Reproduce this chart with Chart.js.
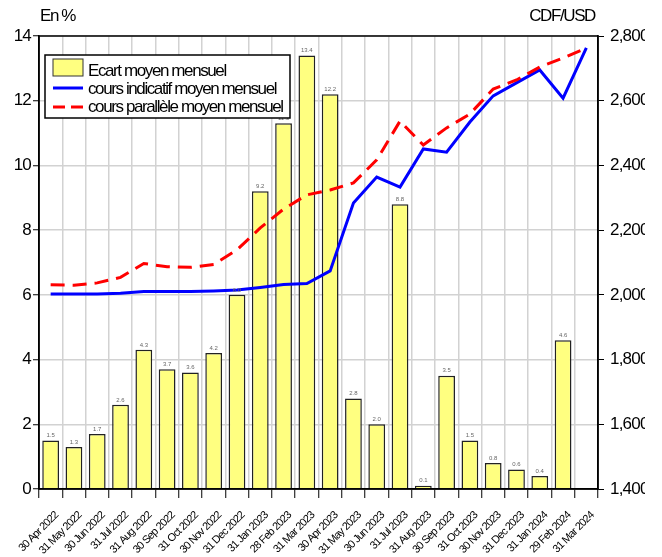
<!DOCTYPE html>
<html>
<head>
<meta charset="utf-8">
<script src="https://cdn.jsdelivr.net/npm/chart.js@4.4.1/dist/chart.umd.min.js"></script>
<style>
  body { margin: 0; background: #fff; }
  #wrap { width: 645px; height: 557px; }
</style>
</head>
<body>
<div id="wrap"><canvas id="chart" width="645" height="557"></canvas></div>
<script>
const months = [
  "30 Apr 2022", "31 May 2022", "30 Jun 2022", "31 Jul 2022", "31 Aug 2022", "30 Sep 2022",
  "31 Oct 2022", "30 Nov 2022", "31 Dec 2022", "31 Jan 2023", "28 Feb 2023", "31 Mar 2023",
  "30 Apr 2023", "31 May 2023", "30 Jun 2023", "31 Jul 2023", "31 Aug 2023", "30 Sep 2023",
  "31 Oct 2023", "30 Nov 2023", "31 Dec 2023", "31 Jan 2024", "29 Feb 2024", "31 Mar 2024"
];
const ecartMoyen = [1.5, 1.3, 1.7, 2.6, 4.3, 3.7, 3.6, 4.2, 6.0, 9.2, 11.3, 13.4,
  12.2, 2.8, 2.0, 8.8, 0.1, 3.5, 1.5, 0.8, 0.6, 0.4, 4.6, null];
const coursIndicatif = [2003, 2003, 2003, 2005, 2010, 2010, 2010, 2012, 2015, 2023, 2032, 2035,
  2074, 2284, 2364, 2333, 2451, 2441, 2534, 2615, 2655, 2695, 2608, 2763];
const coursParallele = [2031, 2030, 2037, 2054, 2097, 2087, 2085, 2094, 2139, 2207, 2265, 2309,
  2324, 2346, 2417, 2537, 2463, 2516, 2559, 2636, 2664, 2704, 2732, 2763];

const FONT = "'Liberation Sans', Arial, sans-serif";
const gridGrey = "#d2d2d2";

// squeeze all text a bit, like the original
const tightText = {
  id: "tightText",
  beforeDraw(chart) {
    chart.ctx.letterSpacing = "-0.8px";
  }
};

// small value labels above bars
const barLabels = {
  id: "barLabels",
  afterDatasetsDraw(chart) {
    const ctx = chart.ctx;
    const meta = chart.getDatasetMeta(0);
    ctx.save();
    ctx.letterSpacing = "0px";
    ctx.font = "6px " + FONT;
    ctx.fillStyle = "#666";
    ctx.textAlign = "center";
    ctx.textBaseline = "bottom";
    meta.data.forEach((bar, i) => {
      const v = ecartMoyen[i];
      if (v === null) return;
      ctx.fillText(v.toFixed(1), bar.x, bar.y - 2);
    });
    ctx.restore();
  }
};

// frame, titles and legend box
const decor = {
  id: "decor",
  afterDraw(chart) {
    const ctx = chart.ctx;
    const a = chart.chartArea;
    ctx.save();
    ctx.strokeStyle = "#000";
    ctx.lineWidth = 1.5;
    ctx.strokeRect(a.left, a.top, a.right - a.left, a.bottom - a.top);

    ctx.letterSpacing = "-1.4px";
    ctx.fillStyle = "#000";
    ctx.font = "17px " + FONT;
    ctx.textBaseline = "alphabetic";
    ctx.textAlign = "left";
    ctx.fillText("En %", 40, 21);
    ctx.textAlign = "right";
    ctx.fillText("CDF/USD", 595, 21);

    // legend
    const lx = 45, ly = 55, lw = 245, lh = 63;
    ctx.fillStyle = "#fff";
    ctx.fillRect(lx, ly, lw, lh);
    ctx.lineWidth = 1.5;
    ctx.strokeStyle = "#000";
    ctx.strokeRect(lx, ly, lw, lh);

    const ds = chart.data.datasets;
    ctx.fillStyle = ds[0].backgroundColor;
    ctx.fillRect(53, 59, 30, 17);
    ctx.lineWidth = 1;
    ctx.strokeStyle = "#333";
    ctx.strokeRect(53, 59, 30, 17);

    ctx.lineWidth = 3;
    ctx.strokeStyle = ds[1].borderColor;
    ctx.beginPath(); ctx.moveTo(53, 88); ctx.lineTo(83, 88); ctx.stroke();
    ctx.strokeStyle = ds[2].borderColor;
    ctx.setLineDash([12, 6]);
    ctx.beginPath(); ctx.moveTo(53, 107); ctx.lineTo(83, 107); ctx.stroke();
    ctx.setLineDash([]);

    ctx.fillStyle = "#000";
    ctx.textAlign = "left";
    ctx.fillText(ds[0].label, 88, 76);
    ctx.fillText(ds[1].label, 88, 94);
    ctx.fillText(ds[2].label, 88, 112);
    ctx.restore();
  }
};

new Chart(document.getElementById("chart"), {
  type: "bar",
  data: {
    labels: months,
    datasets: [
      {
        type: "bar",
        label: "Ecart moyen mensuel",
        data: ecartMoyen,
        yAxisID: "y",
        backgroundColor: "#ffff80",
        borderColor: "#222",
        borderWidth: 1.5,
        categoryPercentage: 1,
        barPercentage: 0.72,
        order: 2
      },
      {
        type: "line",
        label: "cours indicatif moyen mensuel",
        data: coursIndicatif,
        yAxisID: "y1",
        borderColor: "#0000ff",
        borderWidth: 3,
        pointRadius: 0,
        tension: 0,
        order: 1
      },
      {
        type: "line",
        label: "cours parallèle moyen mensuel",
        data: coursParallele,
        yAxisID: "y1",
        borderColor: "#ff0000",
        borderWidth: 3,
        borderDash: [14, 8],
        pointRadius: 0,
        tension: 0,
        order: 0
      }
    ]
  },
  options: {
    responsive: false,
    animation: false,
    layout: { padding: { top: 36, left: 0, right: 0, bottom: 0 } },
    plugins: {
      legend: { display: false },
      tooltip: { enabled: false }
    },
    scales: {
      x: {
        offset: true,
        grid: { offset: true, color: gridGrey, lineWidth: 1.5, tickColor: "#000", tickLength: 9, tickWidth: 1 },
        border: { color: "#000", width: 1.5 },
        ticks: {
          autoSkip: false, minRotation: 45, maxRotation: 45,
          color: "#000", padding: 11, labelOffset: 6,
          font: { family: FONT, size: 11 }
        },
        afterFit(s) {
          s.height = 68;
          s.paddingLeft = 0;
          s.paddingRight = 0;
        }
      },
      y: {
        position: "left",
        min: 0, max: 14,
        ticks: { stepSize: 2, color: "#000", padding: 2, font: { family: FONT, size: 17 } },
        grid: { color: gridGrey, lineWidth: 1.5, tickColor: "#000", tickLength: 6, tickWidth: 1 },
        border: { color: "#000", width: 1.5 },
        afterFit(s) { s.width = 39; }
      },
      y1: {
        position: "right",
        min: 1400, max: 2800,
        ticks: {
          stepSize: 200, color: "#000", padding: 6,
          font: { family: FONT, size: 17 },
          callback: v => v.toLocaleString("en-US")
        },
        grid: { drawOnChartArea: false, tickColor: "#000", tickLength: 6, tickWidth: 1 },
        border: { color: "#000", width: 1.5 },
        afterFit(s) { s.width = 47; }
      }
    }
  },
  plugins: [tightText, barLabels, decor]
});
</script>
</body>
</html>
